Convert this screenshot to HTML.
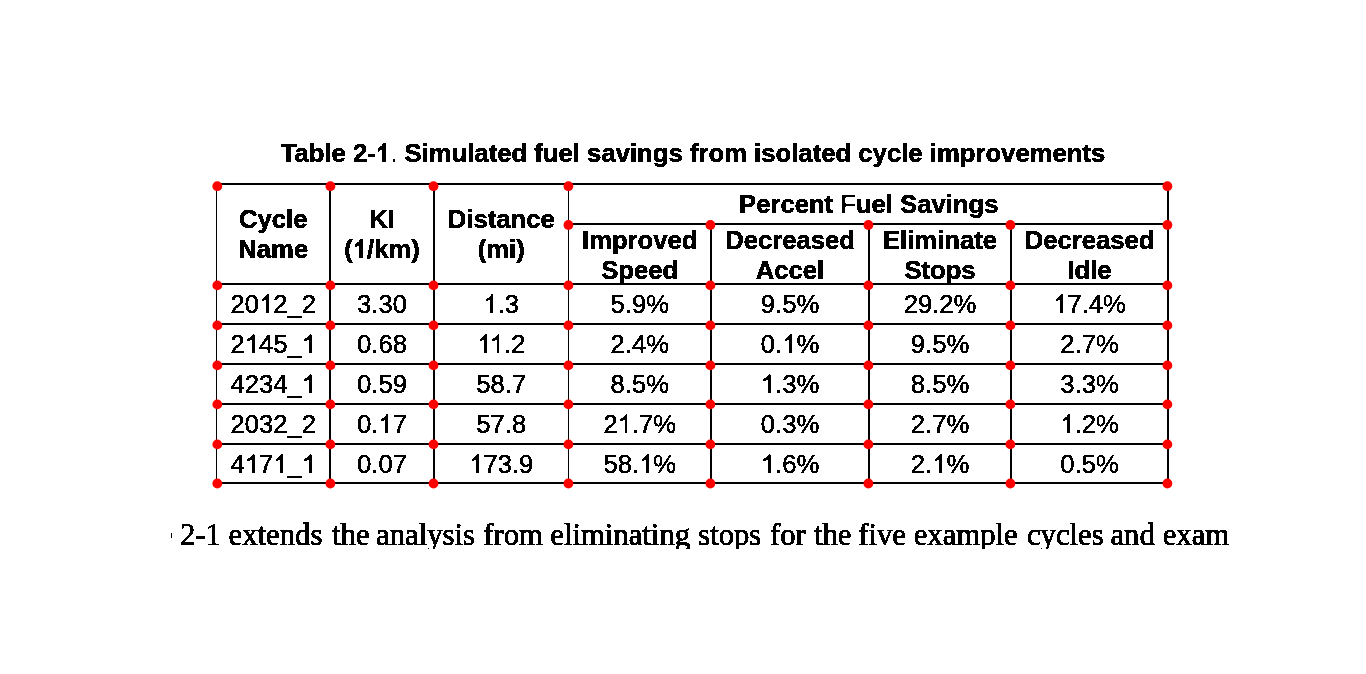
<!DOCTYPE html>
<html><head><meta charset="utf-8"><style>
html,body{margin:0;padding:0;background:#fff;}
svg{display:block;}
text.b{font-family:"Liberation Sans",sans-serif;font-weight:bold;font-size:25.65px;text-anchor:middle;fill:#000;stroke:#000;stroke-width:0.5px;}
text.t{font-size:25.7px;}
tspan.h{fill:none;stroke:none;}
path.on{fill:#000;stroke:#000;stroke-width:36;}
path.ob{fill:#000;stroke:#000;stroke-width:40;}
text.n{font-family:"Liberation Sans",sans-serif;font-weight:normal;font-size:25.65px;text-anchor:middle;fill:#000;stroke:#000;stroke-width:0.45px;}
text.p{font-family:"Liberation Serif",serif;font-size:30.7px;fill:#000;stroke:#000;stroke-width:0.75px;}
</style></head><body>
<svg width="1366" height="674" viewBox="0 0 1366 674">
<defs><filter id="bin" x="0" y="0" width="1366" height="674" filterUnits="userSpaceOnUse"><feComponentTransfer><feFuncA type="discrete" tableValues="0 1"/></feComponentTransfer></filter>
<clipPath id="pc"><rect x="171" y="500" width="1058" height="49"/></clipPath></defs>
<g fill="#000" shape-rendering="crispEdges">
<rect x="216" y="183" width="953" height="2"/>
<rect x="568" y="223" width="601" height="2"/>
<rect x="216" y="283" width="953" height="2"/>
<rect x="216" y="323" width="953" height="2"/>
<rect x="216" y="363" width="953" height="2"/>
<rect x="216" y="403" width="953" height="2"/>
<rect x="216" y="443" width="953" height="2"/>
<rect x="216" y="482" width="953" height="2"/>
<rect x="216" y="183" width="1" height="301"/>
<rect x="329" y="183" width="2" height="301"/>
<rect x="433" y="183" width="2" height="301"/>
<rect x="568" y="183" width="1" height="301"/>
<rect x="710" y="223" width="2" height="261"/>
<rect x="868" y="223" width="2" height="261"/>
<rect x="1010" y="223" width="2" height="261"/>
<rect x="1167" y="183" width="2" height="301"/>
</g>
<g filter="url(#bin)">
<text class="b t" x="693" y="162">Table 2-<tspan class="h">1</tspan><tspan style="font-weight:normal;stroke-width:0">.</tspan> Simulated fuel savings from isolated cycle improvements</text>
<text class="b" x="868.75" y="213">Percent <tspan style="font-weight:normal;stroke-width:0.9px">F</tspan>uel Savings</text>
<text class="b" x="273.25" y="228">Cycle</text>
<text class="b" x="273.25" y="258">Name</text>
<text class="b" x="382.0" y="228">KI</text>
<text class="b" x="382.0" y="258">(<tspan class="h">1</tspan>/km)</text>
<text class="b" x="501.25" y="228">Distance</text>
<text class="b" x="501.25" y="258">(mi)</text>
<text class="b" x="639.75" y="249">Improved</text>
<text class="b" x="639.75" y="278.5">Speed</text>
<text class="b" x="790.0" y="249">Decreased</text>
<text class="b" x="790.0" y="278.5">Accel</text>
<text class="b" x="940.0" y="249">Eliminate</text>
<text class="b" x="940.0" y="278.5">Stops</text>
<text class="b" x="1089.5" y="249">Decreased</text>
<text class="b" x="1089.5" y="278.5">Idle</text>
<text class="n" x="273.25" y="313">20<tspan class="h">1</tspan>2_2</text>
<text class="n" x="382.0" y="313">3.30</text>
<text class="n" x="501.25" y="313"><tspan class="h">1</tspan>.3</text>
<text class="n" x="639.75" y="313">5.9%</text>
<text class="n" x="790.0" y="313">9.5%</text>
<text class="n" x="940.0" y="313">29.2%</text>
<text class="n" x="1089.5" y="313"><tspan class="h">1</tspan>7.4%</text>
<text class="n" x="273.25" y="353">2<tspan class="h">1</tspan>45_<tspan class="h">1</tspan></text>
<text class="n" x="382.0" y="353">0.68</text>
<text class="n" x="501.25" y="353"><tspan class="h">1</tspan><tspan class="h">1</tspan>.2</text>
<text class="n" x="639.75" y="353">2.4%</text>
<text class="n" x="790.0" y="353">0.<tspan class="h">1</tspan>%</text>
<text class="n" x="940.0" y="353">9.5%</text>
<text class="n" x="1089.5" y="353">2.7%</text>
<text class="n" x="273.25" y="393">4234_<tspan class="h">1</tspan></text>
<text class="n" x="382.0" y="393">0.59</text>
<text class="n" x="501.25" y="393">58.7</text>
<text class="n" x="639.75" y="393">8.5%</text>
<text class="n" x="790.0" y="393"><tspan class="h">1</tspan>.3%</text>
<text class="n" x="940.0" y="393">8.5%</text>
<text class="n" x="1089.5" y="393">3.3%</text>
<text class="n" x="273.25" y="433">2032_2</text>
<text class="n" x="382.0" y="433">0.<tspan class="h">1</tspan>7</text>
<text class="n" x="501.25" y="433">57.8</text>
<text class="n" x="639.75" y="433">2<tspan class="h">1</tspan>.7%</text>
<text class="n" x="790.0" y="433">0.3%</text>
<text class="n" x="940.0" y="433">2.7%</text>
<text class="n" x="1089.5" y="433"><tspan class="h">1</tspan>.2%</text>
<text class="n" x="273.25" y="473">4<tspan class="h">1</tspan>7<tspan class="h">1</tspan>_<tspan class="h">1</tspan></text>
<text class="n" x="382.0" y="473">0.07</text>
<text class="n" x="501.25" y="473"><tspan class="h">1</tspan>73.9</text>
<text class="n" x="639.75" y="473">58.<tspan class="h">1</tspan>%</text>
<text class="n" x="790.0" y="473"><tspan class="h">1</tspan>.6%</text>
<text class="n" x="940.0" y="473">2.<tspan class="h">1</tspan>%</text>
<text class="n" x="1089.5" y="473">0.5%</text>
<path class="ob" transform="translate(375.836,162.000) scale(0.012549,-0.012549)" d="M 816,0 L 535,0 L 535,1059 C 432,963 311,892 172,846 L 172,1101 C 245,1125 325,1171 411,1237 C 497,1304 556,1382 588,1472 L 816,1472 Z"/>
<path class="ob" transform="translate(352.773,258.000) scale(0.012524,-0.012524)" d="M 816,0 L 535,0 L 535,1059 C 432,963 311,892 172,846 L 172,1101 C 245,1125 325,1171 411,1237 C 497,1304 556,1382 588,1472 L 816,1472 Z"/>
<path class="on" transform="translate(258.992,313.000) scale(0.012524,-0.012524)" d="M 763,0 L 583,0 L 583,1147 C 540,1106 483,1065 412,1023 C 341,982 278,951 222,930 L 222,1104 C 323,1151 411,1209 486,1276 C 561,1343 615,1409 646,1472 L 763,1472 Z"/>
<path class="on" transform="translate(483.422,313.000) scale(0.012524,-0.012524)" d="M 763,0 L 583,0 L 583,1147 C 540,1106 483,1065 412,1023 C 341,982 278,951 222,930 L 222,1104 C 323,1151 411,1209 486,1276 C 561,1343 615,1409 646,1472 L 763,1472 Z"/>
<path class="on" transform="translate(1053.141,313.000) scale(0.012524,-0.012524)" d="M 763,0 L 583,0 L 583,1147 C 540,1106 483,1065 412,1023 C 341,982 278,951 222,930 L 222,1104 C 323,1151 411,1209 486,1276 C 561,1343 615,1409 646,1472 L 763,1472 Z"/>
<path class="on" transform="translate(244.727,353.000) scale(0.012524,-0.012524)" d="M 763,0 L 583,0 L 583,1147 C 540,1106 483,1065 412,1023 C 341,982 278,951 222,930 L 222,1104 C 323,1151 411,1209 486,1276 C 561,1343 615,1409 646,1472 L 763,1472 Z"/>
<path class="on" transform="translate(301.773,353.000) scale(0.012524,-0.012524)" d="M 763,0 L 583,0 L 583,1147 C 540,1106 483,1065 412,1023 C 341,982 278,951 222,930 L 222,1104 C 323,1151 411,1209 486,1276 C 561,1343 615,1409 646,1472 L 763,1472 Z"/>
<path class="on" transform="translate(477.242,353.000) scale(0.012524,-0.012524)" d="M 763,0 L 583,0 L 583,1147 C 540,1106 483,1065 412,1023 C 341,982 278,951 222,930 L 222,1104 C 323,1151 411,1209 486,1276 C 561,1343 615,1409 646,1472 L 763,1472 Z"/>
<path class="on" transform="translate(489.602,353.000) scale(0.012524,-0.012524)" d="M 763,0 L 583,0 L 583,1147 C 540,1106 483,1065 412,1023 C 341,982 278,951 222,930 L 222,1104 C 323,1151 411,1209 486,1276 C 561,1343 615,1409 646,1472 L 763,1472 Z"/>
<path class="on" transform="translate(782.156,353.000) scale(0.012524,-0.012524)" d="M 763,0 L 583,0 L 583,1147 C 540,1106 483,1065 412,1023 C 341,982 278,951 222,930 L 222,1104 C 323,1151 411,1209 486,1276 C 561,1343 615,1409 646,1472 L 763,1472 Z"/>
<path class="on" transform="translate(301.773,393.000) scale(0.012524,-0.012524)" d="M 763,0 L 583,0 L 583,1147 C 540,1106 483,1065 412,1023 C 341,982 278,951 222,930 L 222,1104 C 323,1151 411,1209 486,1276 C 561,1343 615,1409 646,1472 L 763,1472 Z"/>
<path class="on" transform="translate(760.773,393.000) scale(0.012524,-0.012524)" d="M 763,0 L 583,0 L 583,1147 C 540,1106 483,1065 412,1023 C 341,982 278,951 222,930 L 222,1104 C 323,1151 411,1209 486,1276 C 561,1343 615,1409 646,1472 L 763,1472 Z"/>
<path class="on" transform="translate(378.430,433.000) scale(0.012524,-0.012524)" d="M 763,0 L 583,0 L 583,1147 C 540,1106 483,1065 412,1023 C 341,982 278,951 222,930 L 222,1104 C 323,1151 411,1209 486,1276 C 561,1343 615,1409 646,1472 L 763,1472 Z"/>
<path class="on" transform="translate(617.656,433.000) scale(0.012524,-0.012524)" d="M 763,0 L 583,0 L 583,1147 C 540,1106 483,1065 412,1023 C 341,982 278,951 222,930 L 222,1104 C 323,1151 411,1209 486,1276 C 561,1343 615,1409 646,1472 L 763,1472 Z"/>
<path class="on" transform="translate(1060.273,433.000) scale(0.012524,-0.012524)" d="M 763,0 L 583,0 L 583,1147 C 540,1106 483,1065 412,1023 C 341,982 278,951 222,930 L 222,1104 C 323,1151 411,1209 486,1276 C 561,1343 615,1409 646,1472 L 763,1472 Z"/>
<path class="on" transform="translate(244.719,473.000) scale(0.012524,-0.012524)" d="M 763,0 L 583,0 L 583,1147 C 540,1106 483,1065 412,1023 C 341,982 278,951 222,930 L 222,1104 C 323,1151 411,1209 486,1276 C 561,1343 615,1409 646,1472 L 763,1472 Z"/>
<path class="on" transform="translate(273.250,473.000) scale(0.012524,-0.012524)" d="M 763,0 L 583,0 L 583,1147 C 540,1106 483,1065 412,1023 C 341,982 278,951 222,930 L 222,1104 C 323,1151 411,1209 486,1276 C 561,1343 615,1409 646,1472 L 763,1472 Z"/>
<path class="on" transform="translate(301.781,473.000) scale(0.012524,-0.012524)" d="M 763,0 L 583,0 L 583,1147 C 540,1106 483,1065 412,1023 C 341,982 278,951 222,930 L 222,1104 C 323,1151 411,1209 486,1276 C 561,1343 615,1409 646,1472 L 763,1472 Z"/>
<path class="on" transform="translate(469.164,473.000) scale(0.012524,-0.012524)" d="M 763,0 L 583,0 L 583,1147 C 540,1106 483,1065 412,1023 C 341,982 278,951 222,930 L 222,1104 C 323,1151 411,1209 486,1276 C 561,1343 615,1409 646,1472 L 763,1472 Z"/>
<path class="on" transform="translate(639.039,473.000) scale(0.012524,-0.012524)" d="M 763,0 L 583,0 L 583,1147 C 540,1106 483,1065 412,1023 C 341,982 278,951 222,930 L 222,1104 C 323,1151 411,1209 486,1276 C 561,1343 615,1409 646,1472 L 763,1472 Z"/>
<path class="on" transform="translate(760.773,473.000) scale(0.012524,-0.012524)" d="M 763,0 L 583,0 L 583,1147 C 540,1106 483,1065 412,1023 C 341,982 278,951 222,930 L 222,1104 C 323,1151 411,1209 486,1276 C 561,1343 615,1409 646,1472 L 763,1472 Z"/>
<path class="on" transform="translate(932.156,473.000) scale(0.012524,-0.012524)" d="M 763,0 L 583,0 L 583,1147 C 540,1106 483,1065 412,1023 C 341,982 278,951 222,930 L 222,1104 C 323,1151 411,1209 486,1276 C 561,1343 615,1409 646,1472 L 763,1472 Z"/>
</g>
<g clip-path="url(#pc)"><g filter="url(#bin)"><g>
<text class="p" x="105.00" y="545">Table</text>
<text class="p" x="180.00" y="545">2-1</text>
<text class="p" x="228.60" y="545">extends</text>
<text class="p" x="332.10" y="545">the</text>
<text class="p" x="376.10" y="545">analysis</text>
<text class="p" x="483.30" y="545">from</text>
<text class="p" x="550.30" y="545">eliminating</text>
<text class="p" x="698.20" y="545">stops</text>
<text class="p" x="770.00" y="545">for</text>
<text class="p" x="814.00" y="545">the</text>
<text class="p" x="858.20" y="545">five</text>
<text class="p" x="913.70" y="545">example</text>
<text class="p" x="1027.00" y="545">cycles</text>
<text class="p" x="1110.50" y="545">and</text>
<text class="p" x="1162.70" y="545">example</text>
</g></g></g>
<g fill="#f00">
<circle cx="217.3" cy="186.2" r="4.9"/>
<circle cx="330.4" cy="186.2" r="4.9"/>
<circle cx="433.5" cy="186.2" r="4.9"/>
<circle cx="568.4" cy="186.2" r="4.9"/>
<circle cx="1167.4" cy="186.2" r="4.9"/>
<circle cx="568.4" cy="225.0" r="4.9"/>
<circle cx="710.4" cy="225.0" r="4.9"/>
<circle cx="868.4" cy="225.0" r="4.9"/>
<circle cx="1010.4" cy="225.0" r="4.9"/>
<circle cx="1167.4" cy="225.0" r="4.9"/>
<circle cx="217.3" cy="285.4" r="4.9"/>
<circle cx="330.4" cy="285.4" r="4.9"/>
<circle cx="433.5" cy="285.4" r="4.9"/>
<circle cx="568.4" cy="285.4" r="4.9"/>
<circle cx="710.4" cy="285.4" r="4.9"/>
<circle cx="868.4" cy="285.4" r="4.9"/>
<circle cx="1010.4" cy="285.4" r="4.9"/>
<circle cx="1167.4" cy="285.4" r="4.9"/>
<circle cx="217.3" cy="325.4" r="4.9"/>
<circle cx="330.4" cy="325.4" r="4.9"/>
<circle cx="433.5" cy="325.4" r="4.9"/>
<circle cx="568.4" cy="325.4" r="4.9"/>
<circle cx="710.4" cy="325.4" r="4.9"/>
<circle cx="868.4" cy="325.4" r="4.9"/>
<circle cx="1010.4" cy="325.4" r="4.9"/>
<circle cx="1167.4" cy="325.4" r="4.9"/>
<circle cx="217.3" cy="365.4" r="4.9"/>
<circle cx="330.4" cy="365.4" r="4.9"/>
<circle cx="433.5" cy="365.4" r="4.9"/>
<circle cx="568.4" cy="365.4" r="4.9"/>
<circle cx="710.4" cy="365.4" r="4.9"/>
<circle cx="868.4" cy="365.4" r="4.9"/>
<circle cx="1010.4" cy="365.4" r="4.9"/>
<circle cx="1167.4" cy="365.4" r="4.9"/>
<circle cx="217.3" cy="404.4" r="4.9"/>
<circle cx="330.4" cy="404.4" r="4.9"/>
<circle cx="433.5" cy="404.4" r="4.9"/>
<circle cx="568.4" cy="404.4" r="4.9"/>
<circle cx="710.4" cy="404.4" r="4.9"/>
<circle cx="868.4" cy="404.4" r="4.9"/>
<circle cx="1010.4" cy="404.4" r="4.9"/>
<circle cx="1167.4" cy="404.4" r="4.9"/>
<circle cx="217.3" cy="444.4" r="4.9"/>
<circle cx="330.4" cy="444.4" r="4.9"/>
<circle cx="433.5" cy="444.4" r="4.9"/>
<circle cx="568.4" cy="444.4" r="4.9"/>
<circle cx="710.4" cy="444.4" r="4.9"/>
<circle cx="868.4" cy="444.4" r="4.9"/>
<circle cx="1010.4" cy="444.4" r="4.9"/>
<circle cx="1167.4" cy="444.4" r="4.9"/>
<circle cx="217.3" cy="483.5" r="4.9"/>
<circle cx="330.4" cy="483.5" r="4.9"/>
<circle cx="433.5" cy="483.5" r="4.9"/>
<circle cx="568.4" cy="483.5" r="4.9"/>
<circle cx="710.4" cy="483.5" r="4.9"/>
<circle cx="868.4" cy="483.5" r="4.9"/>
<circle cx="1010.4" cy="483.5" r="4.9"/>
<circle cx="1167.4" cy="483.5" r="4.9"/>
</g>
</svg>
</body></html>
